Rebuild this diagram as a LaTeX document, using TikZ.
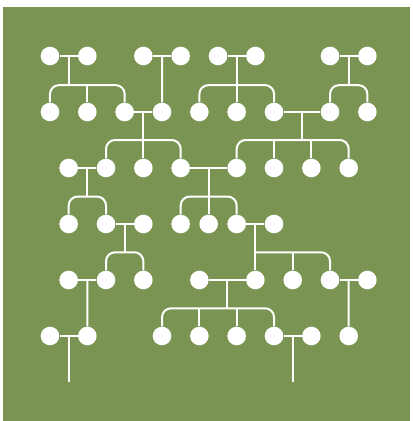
\documentclass[tikz,border=0pt]{standalone}
\usetikzlibrary{calc}
\definecolor{bggreen}{RGB}{122,149,83}
\begin{document}
\begin{tikzpicture}[x=9.335pt,y=-28pt,
  dot/.style={circle,fill=white,draw=none,minimum size=9.3pt,inner sep=0pt},
  wire/.style={draw=white,line width=1pt},
  bracket/.style={wire,rounded corners=4.5pt}]
\useasboundingbox (-2.678,-1) rectangle (19.39,6.518);
\fill[bggreen] (-2.517,-0.875) rectangle (19.28,6.518);
% circles
\foreach \k in {0,2,5,7,9,11,15,17} \node[dot] (r0c\k) at (\k,0) {};
\foreach \k in {0,2,4,6,8,10,12,15,17} \node[dot] (r1c\k) at (\k,1) {};
\foreach \k in {1,3,5,7,10,12,14,16} \node[dot] (r2c\k) at (\k,2) {};
\foreach \k in {1,3,5,7,10,12} \node[dot] (r3c\k) at (\k,3) {};
\node[dot] (r3cm) at (8.5,3) {};
\foreach \k in {1,3,5,8,11,13,15,17} \node[dot] (r4c\k) at (\k,4) {};
\foreach \k in {0,2,6,8,10,12,14,16} \node[dot] (r5c\k) at (\k,5) {};
% pairs
\draw[wire] (r0c0) -- (r0c2);
\draw[wire] (r0c5) -- (r0c7);
\draw[wire] (r0c9) -- (r0c11);
\draw[wire] (r0c15) -- (r0c17);
\draw[wire] (r1c4) -- (r1c6);
\draw[wire] (r1c12) -- (r1c15);
\draw[wire] (r2c1) -- (r2c3);
\draw[wire] (r2c7) -- (r2c10);
\draw[wire] (r3c3) -- (r3c5);
\draw[wire] (r3c10) -- (r3c12);
\draw[wire] (r4c1) -- (r4c3);
\draw[wire] (r4c8) -- (r4c11);
\draw[wire] (r4c15) -- (r4c17);
\draw[wire] (r5c0) -- (r5c2);
\draw[wire] (r5c12) -- (r5c14);
% junction coordinates
\coordinate (b0a) at (1,0.52);
\coordinate (b0c) at (10,0.52);
\coordinate (b0d) at (16,0.52);
\coordinate (b1a) at (5,1.5);
\coordinate (b1b) at (13.5,1.5);
\coordinate (b2a) at (2,2.51);
\coordinate (b2b) at (8.5,2.51);
\coordinate (b3a) at (4,3.505);
\coordinate (b3b) at (11,3.505);
\coordinate (b4b) at (9.5,4.505);
\coordinate (e5a) at (1,5.83);
\coordinate (e5b) at (13,5.83);
% row 0 drops
\draw[wire] (b0a |- r0c0) -- (b0a);
\draw[bracket] (r1c0) |- (b0a) -| (r1c4);
\draw[wire] (r1c2 |- b0a) -- (r1c2);
\draw[wire] ($(r0c5)!0.5!(r0c7)$) -- (r1c6);
\draw[wire] (b0c |- r0c9) -- (b0c);
\draw[bracket] (r1c8) |- (b0c) -| (r1c12);
\draw[wire] (b0c) -- (r1c10);
\draw[wire] (b0d |- r0c15) -- (b0d);
\draw[bracket] (r1c15) |- (b0d) -| (r1c17);
% row 1 drops
\draw[wire] (b1a |- r1c4) -- (b1a);
\draw[bracket] (r2c3) |- (b1a) -| (r2c7);
\draw[wire] (b1a) -- (r2c5);
\draw[wire] (b1b |- r1c12) -- (b1b);
\draw[bracket] (r2c10) |- (b1b) -| (r2c16);
\draw[wire] (r2c12 |- b1b) -- (r2c12);
\draw[wire] (r2c14 |- b1b) -- (r2c14);
% row 2 drops
\draw[wire] (b2a |- r2c1) -- (b2a);
\draw[bracket] (r3c1) |- (b2a) -| (r3c3);
\draw[wire] (b2b |- r2c7) -- (b2b);
\draw[bracket] (r3c7) |- (b2b) -| (r3c10);
\draw[wire] (b2b) -- (r3cm);
% row 3 drops
\draw[wire] (b3a |- r3c3) -- (b3a);
\draw[bracket] (r4c3) |- (b3a) -| (r4c5);
\draw[wire] (b3b |- r3c10) -- (r4c11);
\draw[bracket] (b3b) -| (r4c15);
\draw[wire] (r4c13 |- b3b) -- (r4c13);
% row 4 drops
\draw[wire] ($(r4c1)!0.5!(r4c3)$) -- (r5c2);
\draw[wire] (b4b |- r4c8) -- (b4b);
\draw[bracket] (r5c6) |- (b4b) -| (r5c12);
\draw[wire] (r5c8 |- b4b) -- (r5c8);
\draw[wire] (r5c10 |- b4b) -- (r5c10);
\draw[wire] ($(r4c15)!0.5!(r4c17)$) -- (r5c16);
% row 5 stubs
\draw[wire] (e5a |- r5c0) -- (e5a);
\draw[wire] (e5b |- r5c12) -- (e5b);
\end{tikzpicture}
\end{document}
